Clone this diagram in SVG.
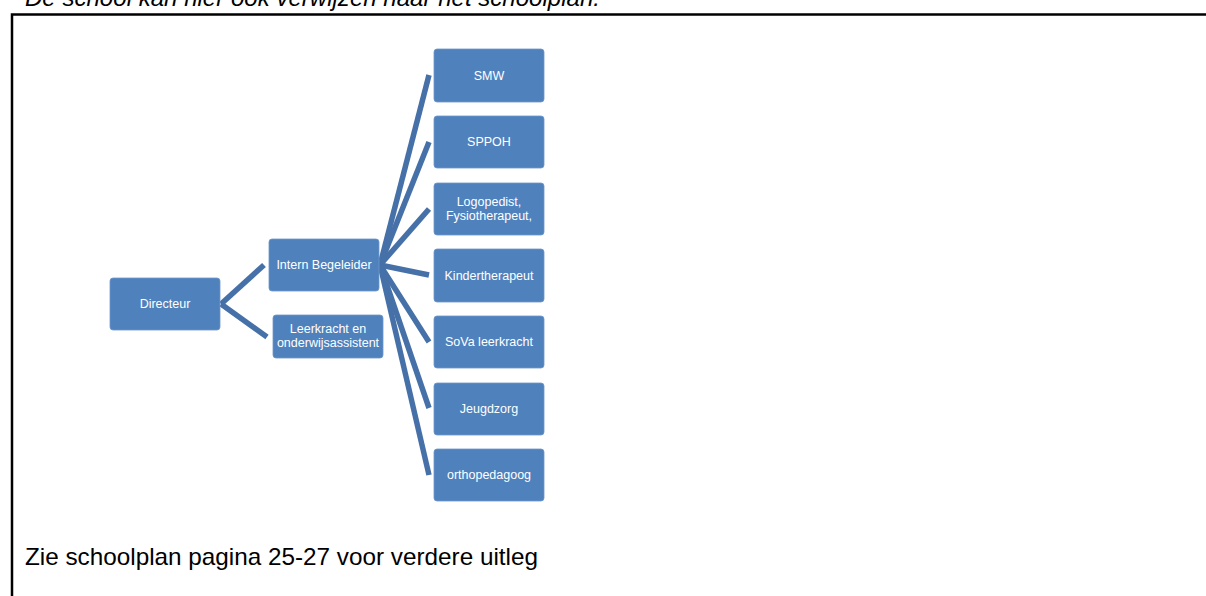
<svg xmlns="http://www.w3.org/2000/svg" width="1206" height="596" viewBox="0 0 1206 596">
  <style>
    .box { fill: #4f81bd; stroke: #6f97c9; stroke-width: 0.8; }
    .lbl { font-family: "Liberation Sans", Arial, sans-serif; font-size: 12.5px; fill: #ffffff; text-anchor: middle; }
    .conn { stroke: #4670a8; stroke-width: 5.5; fill: none; stroke-linecap: butt; }
    .body { font-family: "Liberation Sans", Arial, sans-serif; font-size: 24px; fill: #000000; }
  </style>
  <rect width="1206" height="596" fill="#ffffff"/>
  <text class="body" x="25" y="6" font-style="italic" textLength="575" lengthAdjust="spacingAndGlyphs">De school kan hier ook verwijzen naar het schoolplan.</text>
  <path d="M12 596 V14.5 H1206" fill="none" stroke="#000000" stroke-width="2.5"/>

  <g id="connectors">
    <line class="conn" x1="221" y1="304" x2="264" y2="265"/>
    <line class="conn" x1="221" y1="304" x2="267" y2="337"/>
    <line class="conn" x1="380" y1="265" x2="429" y2="75"/>
    <line class="conn" x1="380" y1="265" x2="429" y2="142"/>
    <line class="conn" x1="380" y1="265" x2="429" y2="209"/>
    <line class="conn" x1="380" y1="265" x2="429" y2="275"/>
    <line class="conn" x1="380" y1="265" x2="429" y2="342"/>
    <line class="conn" x1="380" y1="265" x2="429" y2="408"/>
    <line class="conn" x1="380" y1="265" x2="429" y2="475"/>
  </g>

  <g id="directeur">
    <rect class="box" x="110" y="278" width="110" height="52" rx="3"/>
    <text class="lbl" x="165" y="308">Directeur</text>
  </g>
  <g id="intern-begeleider">
    <rect class="box" x="269" y="239" width="110" height="52" rx="3"/>
    <text class="lbl" x="324" y="269">Intern Begeleider</text>
  </g>
  <g id="leerkracht">
    <rect class="box" x="273" y="315" width="110" height="43" rx="3"/>
    <text class="lbl" x="328" y="333">Leerkracht en</text>
    <text class="lbl" x="328" y="347">onderwijsassistent</text>
  </g>
  <g id="smw">
    <rect class="box" x="434" y="49" width="110" height="53" rx="3"/>
    <text class="lbl" x="489" y="80">SMW</text>
  </g>
  <g id="sppoh">
    <rect class="box" x="434" y="116" width="110" height="52" rx="3"/>
    <text class="lbl" x="489" y="146">SPPOH</text>
  </g>
  <g id="logopedist">
    <rect class="box" x="434" y="183" width="110" height="52" rx="3"/>
    <text class="lbl" x="489" y="206">Logopedist,</text>
    <text class="lbl" x="489" y="220">Fysiotherapeut,</text>
  </g>
  <g id="kindertherapeut">
    <rect class="box" x="434" y="249" width="110" height="53" rx="3"/>
    <text class="lbl" x="489" y="280">Kindertherapeut</text>
  </g>
  <g id="sova">
    <rect class="box" x="434" y="316" width="110" height="52" rx="3"/>
    <text class="lbl" x="489" y="346">SoVa leerkracht</text>
  </g>
  <g id="jeugdzorg">
    <rect class="box" x="434" y="383" width="110" height="52" rx="3"/>
    <text class="lbl" x="489" y="413">Jeugdzorg</text>
  </g>
  <g id="orthopedagoog">
    <rect class="box" x="434" y="449" width="110" height="52" rx="3"/>
    <text class="lbl" x="489" y="479">orthopedagoog</text>
  </g>

  <text class="body" x="25" y="565" textLength="513" lengthAdjust="spacingAndGlyphs">Zie schoolplan pagina 25-27 voor verdere uitleg</text>
</svg>
